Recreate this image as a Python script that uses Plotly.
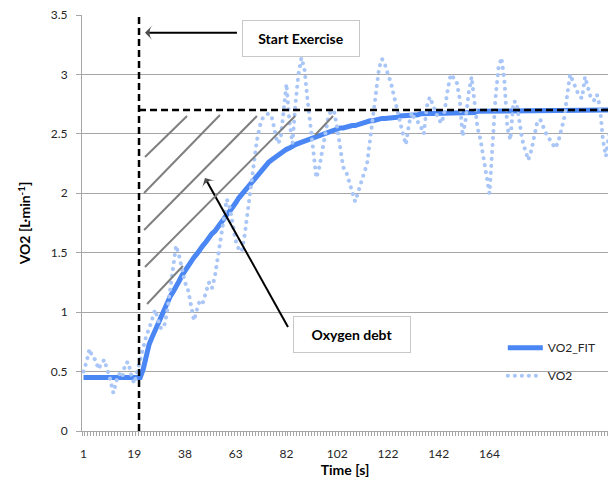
import plotly.graph_objects as go

# Breath-by-breath oxygen uptake around the start of exercise
time_labels = ["1", "19", "38", "63", "82", "102", "122", "142", "164"]
label_step = 17  # breaths between labelled ticks

vo2 = [
    0.50, 0.58, 0.69, 0.62, 0.60, 0.52, 0.57, 0.60, 0.51, 0.43,
    0.32, 0.42, 0.48, 0.45, 0.57, 0.58, 0.47, 0.40, 0.50, 0.60,
    0.72, 0.80, 0.86, 0.93, 1.02, 0.93, 0.86, 0.88, 1.00, 1.18,
    1.38, 1.56, 1.48, 1.35, 1.25, 1.19, 1.05, 0.93, 1.02, 1.10,
    1.08, 1.16, 1.25, 1.20, 1.30, 1.46, 1.63, 1.80, 1.95, 1.88,
    1.72, 1.60, 1.53, 1.51, 1.65, 1.85, 2.05, 2.25, 2.43, 2.56,
    2.63, 2.66, 2.67, 2.65, 2.55, 2.42, 2.45, 2.70, 2.92, 2.60,
    2.42, 2.75, 3.00, 3.14, 3.05, 2.80, 2.55, 2.30, 2.13, 2.22,
    2.35, 2.50, 2.64, 2.70, 2.68, 2.55, 2.40, 2.22, 2.18, 2.10,
    2.00, 1.93, 2.01, 2.10, 2.16, 2.25, 2.45, 2.65, 2.85, 3.05,
    3.13, 3.08, 3.00, 2.93, 2.82, 2.70, 2.62, 2.50, 2.41, 2.58,
    2.68, 2.62, 2.60, 2.56, 2.50, 2.73, 2.81, 2.74, 2.68, 2.62,
    2.59, 2.70, 2.87, 3.00, 2.97, 2.94, 2.80, 2.48, 2.62, 2.84,
    2.98, 2.78, 2.55, 2.45, 2.30, 2.15, 2.00, 2.40, 2.80, 3.05,
    3.14, 2.95, 2.55, 2.45, 2.77, 2.77, 2.60, 2.45, 2.36, 2.28,
    2.36, 2.50, 2.60, 2.62, 2.55, 2.50, 2.46, 2.42, 2.38, 2.43,
    2.52, 2.63, 2.82, 3.00, 2.94, 2.87, 2.82, 2.80, 2.98, 2.89,
    2.80, 2.78, 2.83, 2.73, 2.45, 2.31, 2.49, 2.50,
]

vo2_fit = [
    0.45, 0.45, 0.45, 0.45, 0.45, 0.45, 0.45, 0.45, 0.45, 0.45,
    0.45, 0.45, 0.45, 0.45, 0.45, 0.45, 0.45, 0.45, 0.45, 0.45,
    0.52, 0.64, 0.73, 0.79, 0.85, 0.91, 0.96, 1.01, 1.07, 1.13,
    1.17, 1.21, 1.26, 1.31, 1.35, 1.38, 1.42, 1.46, 1.49, 1.53,
    1.56, 1.59, 1.63, 1.66, 1.68, 1.72, 1.75, 1.79, 1.82, 1.85,
    1.88, 1.92, 1.96, 1.99, 2.02, 2.06, 2.09, 2.12, 2.15, 2.18,
    2.21, 2.23, 2.26, 2.28, 2.30, 2.32, 2.34, 2.35, 2.37, 2.38,
    2.40, 2.41, 2.42, 2.43, 2.44, 2.45, 2.46, 2.47, 2.48, 2.49,
    2.50, 2.50, 2.51, 2.52, 2.53, 2.54, 2.55, 2.55, 2.56, 2.56,
    2.57, 2.57, 2.58, 2.59, 2.59, 2.60, 2.61, 2.61, 2.62, 2.62,
    2.63, 2.63, 2.63, 2.64, 2.64, 2.64, 2.65, 2.65, 2.65, 2.65,
    2.66, 2.66, 2.66, 2.67, 2.67, 2.67, 2.67, 2.67, 2.68, 2.68,
    2.68, 2.68, 2.68, 2.68, 2.68, 2.68, 2.68, 2.68, 2.68, 2.68,
    2.68, 2.68, 2.69, 2.69, 2.69, 2.69, 2.69, 2.69, 2.69, 2.69,
    2.69, 2.69, 2.69, 2.69, 2.69, 2.69, 2.69, 2.69, 2.69, 2.69,
    2.69, 2.69, 2.70, 2.70, 2.70, 2.70, 2.70, 2.70, 2.70, 2.70,
    2.70, 2.70, 2.70, 2.70, 2.70, 2.70, 2.70, 2.70, 2.70, 2.70,
    2.70, 2.70, 2.70, 2.70, 2.70, 2.70, 2.70, 2.70,
]

breath = list(range(len(vo2)))
exercise_start = 18.6      # breath index where the exercise begins
steady_state = 2.70        # plateau of the fitted response

FONT = "Lato"
GRID = "#A6A6A6"
DOT_DASH = "0.1px,6.9px"

fig = go.Figure()
fig.add_trace(go.Scatter(
    x=breath, y=vo2_fit, mode="lines", name="VO2_FIT",
    line=dict(color="#4A86F4", width=5), legendgroup="fit",
))
fig.add_trace(go.Scatter(
    x=breath, y=vo2, mode="lines", name="VO2",
    line=dict(color="#A9C6F7", width=4, dash=DOT_DASH), legendgroup="raw",
))

# callout arrows: (tail x, tail y) -> (tip x, tip y)
callout_arrows = [
    ((51.4, 3.35), (20.6, 3.35)),
    ((68.5, 0.875), (40.7, 2.129)),
]
for (tx, ty), (hx, hy) in callout_arrows:
    fig.add_trace(go.Scatter(
        x=[tx, hx], y=[ty, hy], mode="lines+markers", showlegend=False,
        hoverinfo="skip", line=dict(color="black", width=2),
        marker=dict(symbol=["circle", "arrow-wide"], size=[0, 11],
                    color="black", angleref="previous", line=dict(width=0)),
    ))

dash_line = dict(color="black", width=2.5, dash="7px,4px")
shapes = [
    dict(type="line", xref="x", yref="y", x0=exercise_start, x1=exercise_start,
         y0=0, y1=3.5, line=dash_line),
    dict(type="line", xref="x", yref="y", x0=exercise_start, x1=176,
         y0=steady_state, y1=steady_state, line=dash_line),
]
# hatching of the oxygen-debt area
hatch = [
    (20.6, 2.305, 34.7, 2.650),
    (20.3, 2.002, 45.7, 2.659),
    (20.3, 1.691, 58.1, 2.650),
    (20.6, 1.380, 70.9, 2.650),
    (21.3, 1.068, 33.3, 1.388),
    (77.6, 2.490, 83.6, 2.650),
]
for x0, y0, x1, y1 in hatch:
    shapes.append(dict(type="line", xref="x", yref="y", x0=x0, y0=y0, x1=x1, y1=y1,
                       line=dict(color="#7F7F7F", width=2)))

box = dict(xref="x", yref="y", showarrow=False, bgcolor="white",
           bordercolor="#C8C8C8", borderwidth=1, borderpad=2,
           width=112, height=31, font=dict(family=FONT, size=14, color="black"))
annotations = [
    dict(box, x=72.9, y=3.306, text="<b>Start Exercise</b>"),
    dict(box, x=90.1, y=0.812, text="<b>Oxygen debt</b>"),
]

fig.update_layout(
    width=608, height=479,
    margin=dict(l=82, r=0, t=15, b=48, autoexpand=False),
    paper_bgcolor="white", plot_bgcolor="white",
    font=dict(family=FONT, size=12, color="#262626"),
    shapes=shapes, annotations=annotations,
    legend=dict(x=0.80, y=0.235, xanchor="left", yanchor="top",
                bgcolor="rgba(0,0,0,0)", itemwidth=35, tracegroupgap=9,
                traceorder="grouped", font=dict(family=FONT, size=12, color="#262626")),
    showlegend=True,
)

fig.update_xaxes(
    range=[-0.5, 175.7], tickmode="array",
    tickvals=[k * label_step for k in range(len(time_labels))], ticktext=time_labels,
    ticks="outside", ticklen=12, tickcolor="rgba(0,0,0,0)",
    showgrid=False, zeroline=False, showline=True, linecolor=GRID, linewidth=1,
    minor=dict(ticks="outside", tickmode="linear", tick0=-0.5, dtick=1,
               ticklen=4, tickcolor=GRID, showgrid=False),
    title=dict(text="<b>Time [s]</b>", font=dict(family=FONT, size=14, color="black"),
               standoff=3),
    tickfont=dict(family=FONT, size=12, color="#262626"),
)
fig.update_yaxes(
    range=[0, 3.5], tick0=0, dtick=0.5,
    ticks="outside", ticklen=5, tickcolor=GRID, ticklabelstandoff=6,
    showgrid=True, gridcolor=GRID, gridwidth=1, zeroline=False,
    showline=True, linecolor=GRID, linewidth=1,
    title=dict(text="<b>VO2 [L·min<sup>-1</sup>]</b>",
               font=dict(family=FONT, size=14, color="black"), standoff=16),
    tickfont=dict(family=FONT, size=12, color="#262626"),
)

# round line caps turn the short dashes of the VO2 trace into dots
post = """
(function(){
  var gd = document.getElementById('{plot_id}');
  function roundDots(){
    gd.querySelectorAll('path').forEach(function(p){
      var d = p.style.strokeDasharray || '';
      if (d.indexOf('6.9') >= 0) { p.style.strokeLinecap = 'round'; }
    });
  }
  roundDots();
  if (gd.on) { gd.on('plotly_afterplot', roundDots); }
})();
"""
fig.write_html("out.html", post_script=post)
